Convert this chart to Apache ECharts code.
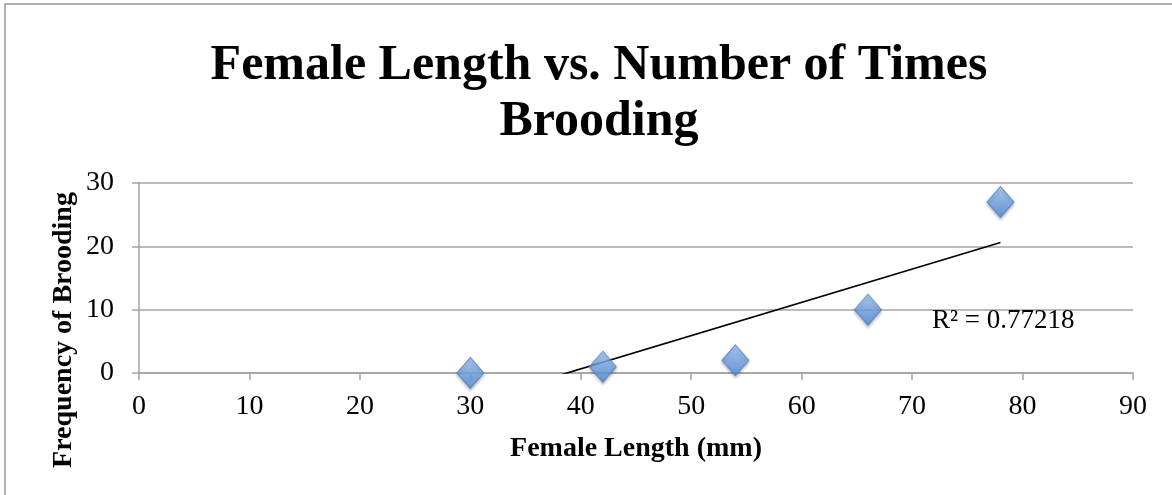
<!DOCTYPE html>
<html>
<head>
<meta charset="utf-8">
<script src="https://cdn.jsdelivr.net/npm/echarts@6/dist/echarts.min.js"></script>
<style>
  html, body { margin: 0; padding: 0; background: #fff; }
  #chart { width: 1172px; height: 495px; }
</style>
</head>
<body>
<div id="chart"></div>
<script>
// ---- data ----
const femaleLength = [30, 42, 54, 66, 78];
const broodingFreq = [0, 1, 2, 10, 27];
const xTicks = [0, 10, 20, 30, 40, 50, 60, 70, 80, 90];
const yTicks = [0, 10, 20, 30];
const titleText = 'Female Length vs. Number of Times\nBrooding';
const xName = 'Female Length (mm)';
const yName = 'Frequency of Brooding';

// linear regression (trendline) computed from the data
const n = femaleLength.length;
const mx = femaleLength.reduce((a, b) => a + b, 0) / n;
const my = broodingFreq.reduce((a, b) => a + b, 0) / n;
let sxy = 0, sxx = 0, syy = 0;
for (let i = 0; i < n; i++) {
  sxy += (femaleLength[i] - mx) * (broodingFreq[i] - my);
  sxx += (femaleLength[i] - mx) ** 2;
  syy += (broodingFreq[i] - my) ** 2;
}
const slope = sxy / sxx;
const intercept = my - slope * mx;
const r2 = (sxy * sxy) / (sxx * syy);
const xMinData = Math.min(...femaleLength), xMaxData = Math.max(...femaleLength);
const trend = [
  [xMinData, intercept + slope * xMinData],
  [xMaxData, intercept + slope * xMaxData]
];

const scatterData = femaleLength.map((x, i) => [x, broodingFreq[i]]);
const FONT = '"Liberation Serif", "Times New Roman", serif';
const axisGray = '#a3a3a3';

const chart = echarts.init(document.getElementById('chart'));
chart.setOption({
  animation: false,
  backgroundColor: '#fff',
  title: {
    text: titleText,
    left: 594,
    textAlign: 'center',
    top: 33,
    textStyle: {
      fontFamily: FONT, fontWeight: 'bold', fontSize: 50, lineHeight: 56, color: '#000'
    }
  },
  grid: { left: 139, right: 39, top: 183, bottom: 122, containLabel: false },
  xAxis: {
    type: 'value',
    min: xTicks[0], max: xTicks[xTicks.length - 1], interval: 10,
    name: xName, nameLocation: 'middle', nameGap: 62,
    nameTextStyle: { fontFamily: FONT, fontWeight: 'bold', fontSize: 28, color: '#000' },
    axisLine: { show: true, lineStyle: { color: axisGray, width: 1.5 } },
    axisTick: { show: true, length: 7, inside: false, lineStyle: { color: axisGray, width: 1.5 } },
    axisLabel: { fontFamily: FONT, fontSize: 28, color: '#000', margin: 20 },
    splitLine: { show: false }
  },
  yAxis: {
    type: 'value',
    min: yTicks[0], max: yTicks[yTicks.length - 1], interval: 10,
    axisLine: { show: true, lineStyle: { color: axisGray, width: 1.5 } },
    axisTick: { show: true, length: 7, inside: false, lineStyle: { color: axisGray, width: 1.5 } },
    axisLabel: { fontFamily: FONT, fontSize: 28, color: '#000', margin: 25, padding: [6, 0, 0, 0] },
    splitLine: { show: true, lineStyle: { color: axisGray, width: 1.5 } }
  },
  graphic: [
    {
      type: 'rect', silent: true, z: -1,
      shape: { x: 5, y: 4, width: 1400, height: 700 },
      style: { fill: 'none', stroke: '#9a9a9a', lineWidth: 1.5 }
    },
    {
      type: 'text', x: 64, y: 330, rotation: Math.PI / 2, z: 10,
      style: {
        text: yName, textAlign: 'center', textVerticalAlign: 'middle',
        fontFamily: FONT, fontWeight: 'bold', fontSize: 28, fill: '#000'
      }
    },
    {
      type: 'text', left: 932, top: 307, z: 10,
      style: {
        text: 'R² = ' + r2.toFixed(5),
        fontFamily: FONT, fontSize: 27, fill: '#000'
      }
    }
  ],
  series: [
    {
      type: 'line',
      data: trend,
      symbol: 'none',
      clip: true,
      lineStyle: { color: '#000', width: 1.7 },
      z: 3
    },
    {
      type: 'scatter',
      data: scatterData,
      symbol: 'diamond',
      symbolSize: [27, 31],
      z: 4,
      itemStyle: {
        color: new echarts.graphic.LinearGradient(0, 0, 0, 1, [
          { offset: 0, color: '#a9cbf5' },
          { offset: 0.45, color: '#78a9e6' },
          { offset: 1, color: '#4f86d4' }
        ]),
        borderColor: '#4f82cc',
        borderWidth: 1,
        shadowColor: 'rgba(0,0,0,0.3)',
        shadowBlur: 3,
        shadowOffsetY: 2
      }
    }
  ]
});
</script>
</body>
</html>
